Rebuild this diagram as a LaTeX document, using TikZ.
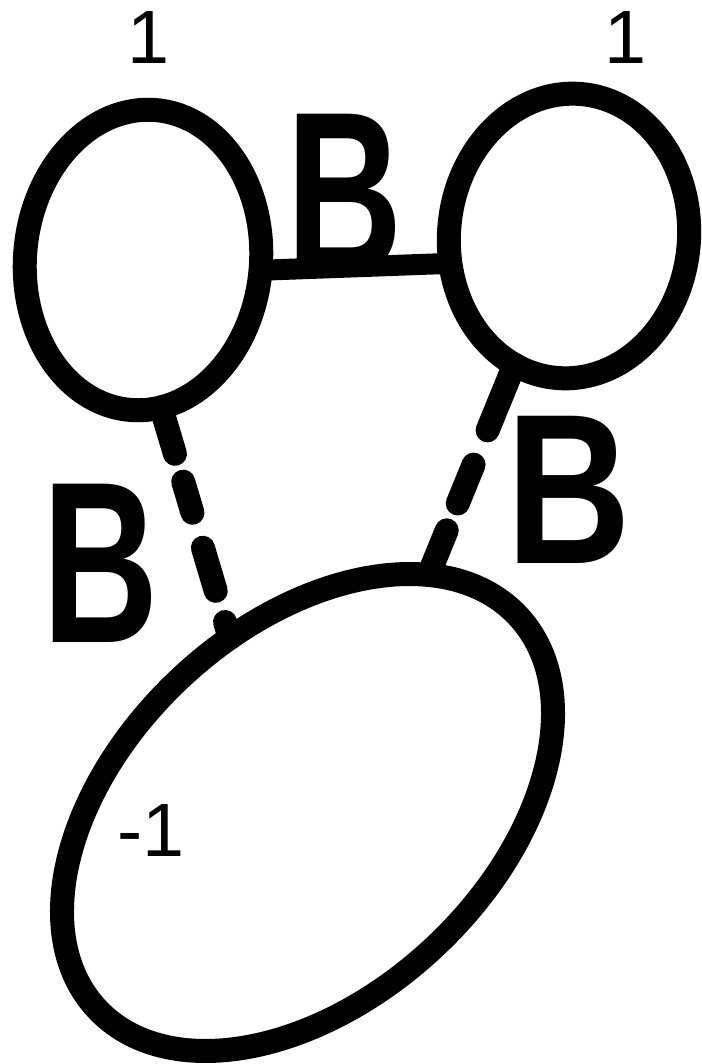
\documentclass[tikz,border=0pt]{standalone}
\usepackage{graphicx}
\usepackage{fontspec}
\setmainfont{Liberation Sans}
\usepackage{tikz}
\usetikzlibrary{shapes.geometric}

\begin{document}
\begin{tikzpicture}[
    x=0.02cm, y=0.02cm,
    ring/.style={draw, ellipse, line width=0.48cm, inner sep=0pt, outer sep=0pt},
    link/.style={line width=0.42cm},
    gaplink/.style={line width=0.48cm, line cap=round},
    bee/.style={anchor=base, inner sep=0pt, font=\bfseries\fontsize{131}{131}\selectfont},
    one/.style={anchor=base, inner sep=0pt, font=\fontsize{43}{43}\selectfont},
  ]
  \path[use as bounding box, fill=white] (0,0) rectangle (702,-1064);

  % Ringe
  \node[ring, minimum width=4.72cm, minimum height=6.02cm, rotate=-5] (ll) at (143,-260) {};
  \node[ring, minimum width=4.8cm, minimum height=5.7cm, rotate=-5] (rr) at (569,-236) {};
  \node[ring, minimum width=11.52cm, minimum height=7.4cm, rotate=43] (bot) at (307.5,-812.5) {};

  % Verbindungen
  \draw[link] (ll.east) -- (rr.-162);
  \draw[gaplink, dash pattern=on 0.97cm off 0.58cm on 0.65cm off 0.73cm on 0.9cm off 0.65cm on 3cm]
    (ll.-78) -- (bot.71);
  \draw[gaplink, dash pattern=on 1.42cm off 0.74cm on 0.84cm off 0.58cm on 3cm]
    (rr.-108) -- (bot.20);

  % Beschriftung
  \node[bee] (btop) at (345,-272) {\scalebox{0.7}[1]{B}};
  \node[bee] (bleft) at (101,-642) {\scalebox{0.7}[1]{B}};
  \node[bee] (bright) at (569,-563) {\scalebox{0.75}[0.93]{B}};
  \node[one] (wl) at (149,-64) {1};
  \node[one] (wr) at (625,-64) {1};
  \node[one] (wb) at (151,-856) {-1};
\end{tikzpicture}
\end{document}
